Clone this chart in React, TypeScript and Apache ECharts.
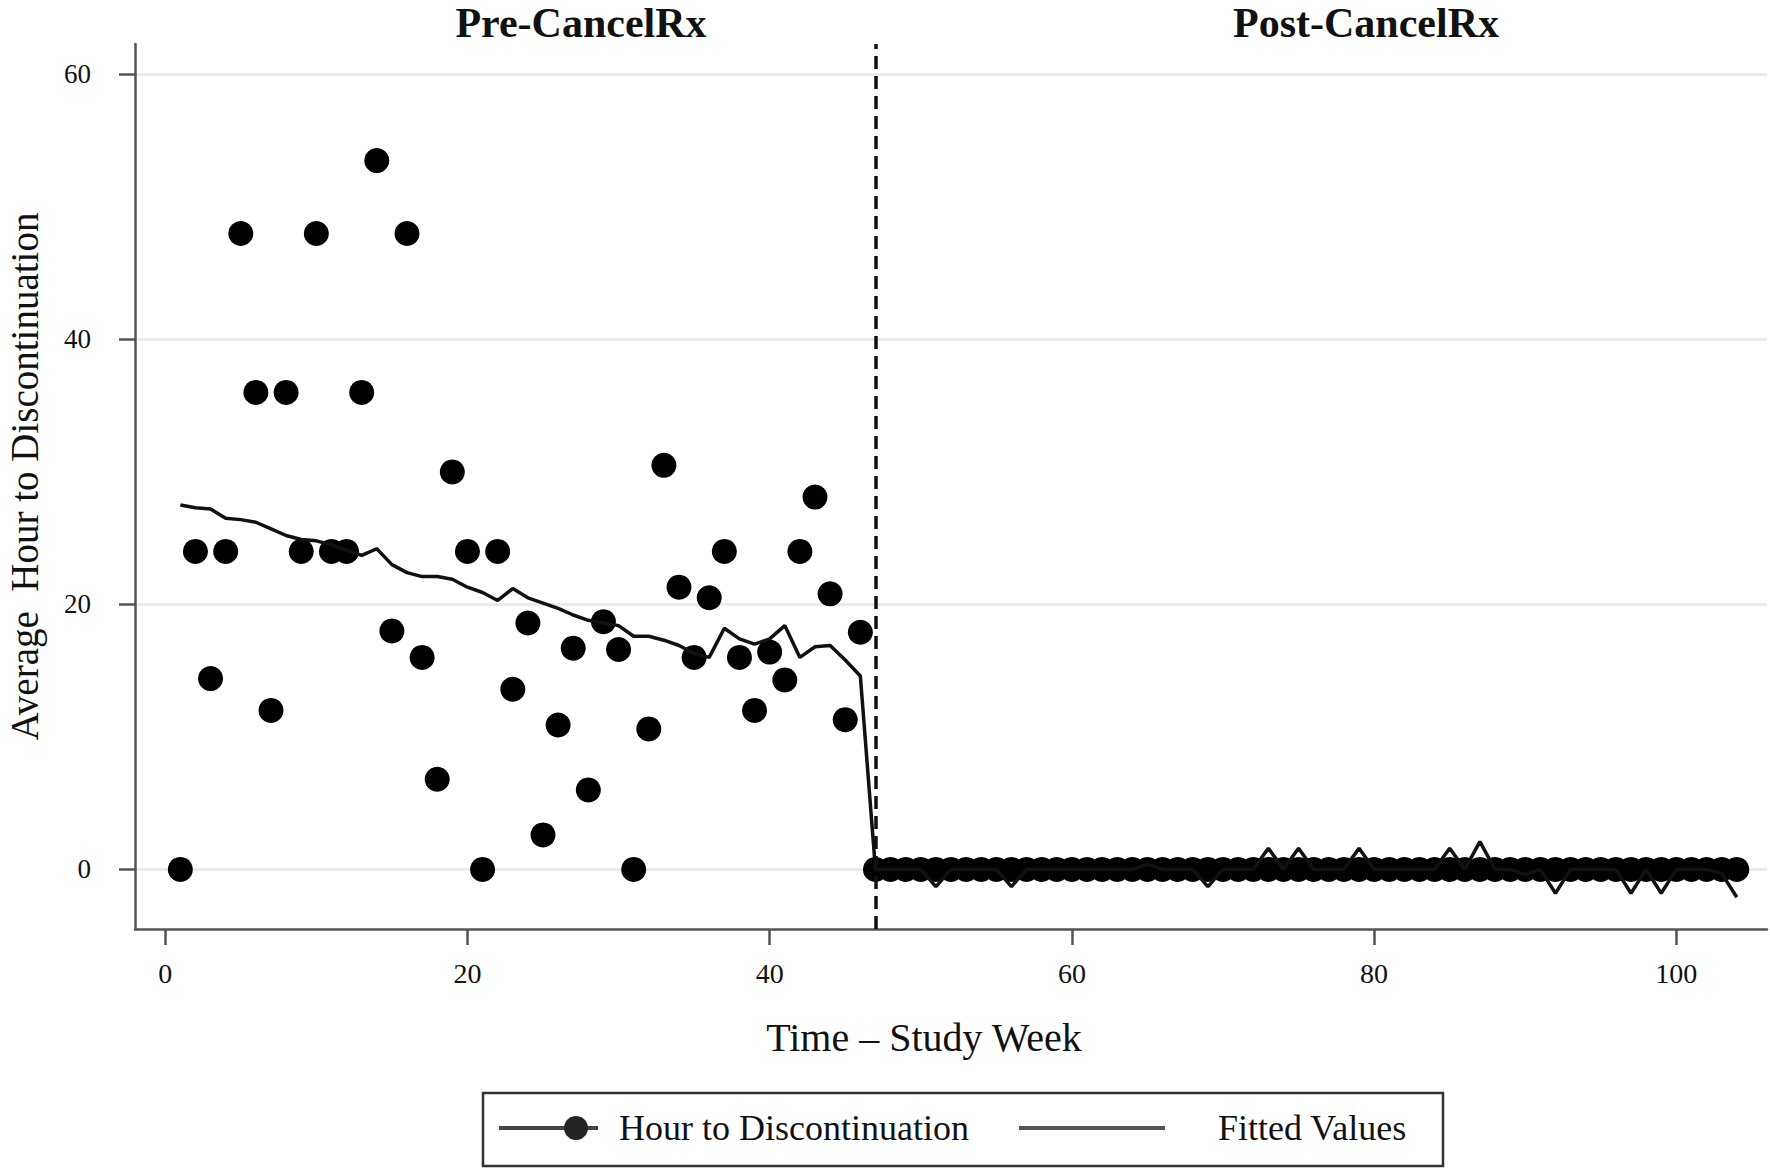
import React, { useEffect, useRef } from "react";
import * as echarts from "echarts";

const weeks = [
  1, 2, 3, 4, 5, 6, 7, 8, 9, 10,
  11, 12, 13, 14, 15, 16, 17, 18, 19, 20,
  21, 22, 23, 24, 25, 26, 27, 28, 29, 30,
  31, 32, 33, 34, 35, 36, 37, 38, 39, 40,
  41, 42, 43, 44, 45, 46, 47, 48, 49, 50,
  51, 52, 53, 54, 55, 56, 57, 58, 59, 60,
  61, 62, 63, 64, 65, 66, 67, 68, 69, 70,
  71, 72, 73, 74, 75, 76, 77, 78, 79, 80,
  81, 82, 83, 84, 85, 86, 87, 88, 89, 90,
  91, 92, 93, 94, 95, 96, 97, 98, 99, 100,
  101, 102, 103, 104,
];

const hours = [
  0, 24, 14.4, 24, 48, 36, 12, 36, 24, 48,
  24, 24, 36, 53.5, 18, 48, 16, 6.8, 30, 24,
  0, 24, 13.6, 18.6, 2.6, 10.9, 16.7, 6, 18.7, 16.6,
  0, 10.6, 30.5, 21.3, 16, 20.5, 24, 16, 12, 16.4,
  14.3, 24, 28.1, 20.8, 11.3, 17.9, 0, 0, 0, 0,
  0, 0, 0, 0, 0, 0, 0, 0, 0, 0,
  0, 0, 0, 0, 0, 0, 0, 0, 0, 0,
  0, 0, 0, 0, 0, 0, 0, 0, 0, 0,
  0, 0, 0, 0, 0, 0, 0, 0, 0, 0,
  0, 0, 0, 0, 0, 0, 0, 0, 0, 0,
  0, 0, 0, 0,
];

const fitted = [
  27.5, 27.3, 27.2, 26.5, 26.4, 26.2, 25.7, 25.2, 24.9, 24.8,
  24.5, 24.1, 23.7, 24.2, 23.0, 22.4, 22.1, 22.1, 21.9, 21.3,
  20.9, 20.3, 21.2, 20.5, 20.1, 19.7, 19.2, 18.8, 18.6, 18.4,
  17.6, 17.6, 17.3, 16.9, 16.3, 16.0, 18.2, 17.4, 17.0, 17.4,
  18.4, 16.0, 16.8, 16.9, 15.8, 14.6, 0, 0, 0, 0,
  -1.3, 0, 0, 0, 0, -1.3, 0, 0, 0, 0,
  0, 0, 0, 0, 0.4, 0, 0, 0, -1.3, 0,
  0, 0, 1.6, 0, 1.6, 0, 0, 0, 1.6, 0,
  0, 0, 0, 0, 1.6, 0, 2.1, 0, 0, -0.4,
  0, -1.8, 0, 0, 0, 0, -1.8, 0, -1.8, 0,
  0, 0, -0.3, -2.1,
];

const xTicks = [0, 20, 40, 60, 80, 100];
const yTicks = [0, 20, 40, 60];
const interventionWeek = 47;
const periodLabels = ["Pre-CancelRx", "Post-CancelRx"];
const seriesNames = ["Hour to Discontinuation", "Fitted Values"];
const xAxisTitle = "Time \u2013 Study Week";
const yAxisTitle = "Average  Hour to Discontinuation";

const SERIF = "'Liberation Serif', 'Times New Roman', serif";

export default function App() {
  const ref = useRef<HTMLDivElement>(null);

  useEffect(() => {
    if (!ref.current) return;
    const chart = echarts.init(ref.current, undefined, { renderer: "svg" });

    const scatterData = weeks.map((w, i) => [w, hours[i]]);
    const fittedData = weeks.map((w, i) => [w, fitted[i]]);

    const option: any = {
      animation: false,
      backgroundColor: "#ffffff",
      grid: {
        left: 135,
        right: 3,
        top: 44,
        bottom: 243,
        containLabel: false,
        outerBoundsMode: "none",
      },
      xAxis: {
        type: "value",
        min: -2,
        max: 106,
        name: xAxisTitle,
        nameLocation: "middle",
        nameGap: 88,
        nameTextStyle: {
          fontFamily: SERIF,
          fontSize: 40,
          color: "#111",
          padding: [0, 54, 0, 0],
        },
        axisLine: { show: true, onZero: false, lineStyle: { color: "#555", width: 2.5 } },
        axisTick: {
          show: true,
          inside: false,
          length: 16,
          customValues: xTicks,
          lineStyle: { color: "#555", width: 2.5 },
        },
        axisLabel: {
          show: true,
          customValues: xTicks,
          margin: 30,
          fontFamily: SERIF,
          fontSize: 28,
          color: "#111",
        },
        splitLine: { show: false },
      },
      yAxis: {
        type: "value",
        min: -4.5,
        max: 62.3,
        name: yAxisTitle,
        nameLocation: "middle",
        nameRotate: 90,
        nameGap: 92,
        nameTextStyle: {
          fontFamily: SERIF,
          fontSize: 39,
          lineHeight: 38,
          color: "#111",
          padding: [0, 0, 0, 20],
        },
        axisLine: { show: true, onZero: false, lineStyle: { color: "#555", width: 2.5 } },
        axisTick: {
          show: true,
          inside: false,
          length: 16,
          customValues: yTicks,
          lineStyle: { color: "#555", width: 2.5 },
        },
        axisLabel: {
          show: true,
          customValues: yTicks,
          margin: 44,
          fontFamily: SERIF,
          fontSize: 27,
          color: "#111",
        },
        splitLine: { show: true, lineStyle: { color: "#ebebeb", width: 3 } },
      },
      series: [
        {
          name: seriesNames[0],
          type: "scatter",
          data: scatterData,
          symbol: "circle",
          symbolSize: 25,
          itemStyle: { color: "#000", opacity: 1 },
          z: 3,
          markLine: {
            silent: true,
            symbol: ["none", "none"],
            label: { show: false },
            lineStyle: { color: "#111", width: 3.5, type: [13, 7] },
            data: [{ xAxis: interventionWeek }],
          },
        },
        {
          name: seriesNames[1],
          type: "line",
          data: fittedData,
          showSymbol: false,
          symbol: "none",
          lineStyle: { color: "#111", width: 3.5 },
          z: 4,
        },
      ],
      graphic: [
        {
          type: "text",
          x: 581,
          y: 23,
          style: {
            text: periodLabels[0],
            align: "center",
            verticalAlign: "middle",
            font: `bold 42px ${SERIF}`,
            lineHeight: 38,
            fill: "#111",
          },
        },
        {
          type: "text",
          x: 1366,
          y: 23,
          style: {
            text: periodLabels[1],
            align: "center",
            verticalAlign: "middle",
            font: `bold 42px ${SERIF}`,
            lineHeight: 38,
            fill: "#111",
          },
        },
        {
          type: "rect",
          shape: { x: 483, y: 1093, width: 960, height: 73 },
          style: { fill: "#fff", stroke: "#333", lineWidth: 2.5 },
        },
        {
          type: "line",
          shape: { x1: 499, y1: 1128, x2: 598, y2: 1128 },
          style: { stroke: "#444", lineWidth: 4 },
        },
        {
          type: "circle",
          shape: { cx: 576, cy: 1128, r: 12 },
          style: { fill: "#222" },
        },
        {
          type: "text",
          x: 619,
          y: 1128,
          style: {
            text: seriesNames[0],
            align: "left",
            verticalAlign: "middle",
            font: `36px ${SERIF}`,
            fill: "#111",
          },
        },
        {
          type: "line",
          shape: { x1: 1019, y1: 1128, x2: 1165, y2: 1128 },
          style: { stroke: "#555", lineWidth: 4 },
        },
        {
          type: "text",
          x: 1218,
          y: 1128,
          style: {
            text: seriesNames[1],
            align: "left",
            verticalAlign: "middle",
            font: `36px ${SERIF}`,
            fill: "#111",
          },
        },
      ],
    };

    chart.setOption(option);
    return () => {
      chart.dispose();
    };
  }, []);

  return (
    <div
      ref={ref}
      style={{
        position: "fixed",
        left: 0,
        top: 0,
        width: 1770,
        height: 1172,
        background: "#fff",
      }}
    />
  );
}
